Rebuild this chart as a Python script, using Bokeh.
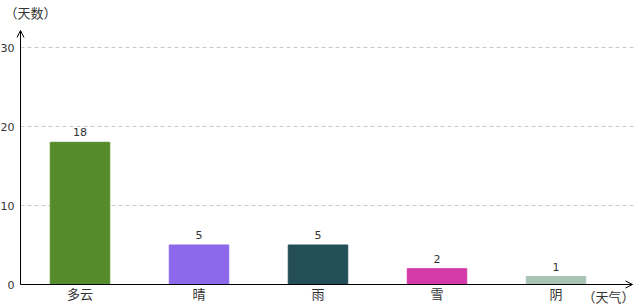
from bokeh.plotting import figure
from bokeh.models import ColumnDataSource, Arrow, OpenHead, Range1d
from bokeh.core.properties import value
from bokeh.embed import file_html
from bokeh.resources import INLINE

categories = ["多云", "晴", "雨", "雪", "阴"]
days = [18, 5, 5, 2, 1]
colors = ["#568b2b", "#8b69ea", "#234e58", "#d43aa8", "#a8c4b3"]
y_ticks = [0, 10, 20, 30]
grid_ticks = [10, 20, 30]
y_title = "（天数）"
x_title = "（天气）"

# scales: 119 px per category, 7.9 px per day
PX_X = 119.0
PX_Y = 7.9
X0, X1 = -20 / PX_X, 620 / PX_X
Y0, Y1 = -21 / PX_Y, 284 / PX_Y
X_TIP = 612 / PX_X
Y_TIP = 254 / PX_Y
X_GRID = 616 / PX_X

xs = [i + 0.5 for i in range(len(categories))]
src = ColumnDataSource(dict(x=xs, top=days, color=colors, label=[str(d) for d in days]))
cat_src = ColumnDataSource(dict(x=xs, y=[0] * len(xs), text=categories))
ytick_src = ColumnDataSource(dict(x=[0] * len(y_ticks), y=y_ticks, text=[str(t) for t in y_ticks]))
grid_src = ColumnDataSource(dict(x0=[0] * len(grid_ticks), x1=[X_GRID] * len(grid_ticks),
                                 y=grid_ticks))

p = figure(width=640, height=305, output_backend="svg", toolbar_location=None,
           x_range=Range1d(X0, X1), y_range=Range1d(Y0, Y1),
           min_border=0)
p.outline_line_color = None
p.background_fill_color = "white"
p.border_fill_color = "white"
p.xaxis.visible = False
p.yaxis.visible = False
p.xgrid.visible = False
p.ygrid.visible = False

# dashed grid lines
p.segment(x0="x0", y0="y", x1="x1", y1="y", source=grid_src, line_color="#c8c8c8",
          line_width=1, line_dash="4 3")

# bars
p.vbar(x="x", top="top", width=0.5, bottom=0, color="color", source=src)

# value labels
p.text(x="x", y="top", text="label", source=src, text_align="center", text_baseline="middle",
       y_offset=-10, text_font_size="11px", text_color="#333333", text_font=value("DejaVu Sans"))

# category labels
p.text(x="x", y="y", text="text", source=cat_src, text_align="center", text_baseline="middle",
       y_offset=9, text_font_size="13px", text_color="#333333",
       text_font=value("Noto Sans CJK SC"))

# y tick labels
p.text(x="x", y="y", text="text", source=ytick_src, text_align="right", text_baseline="middle",
       x_offset=-6, text_font_size="11px", text_color="#333333", text_font=value("DejaVu Sans"))

# axis lines with arrows
p.add_layout(Arrow(x_start=0, y_start=0, x_end=X_TIP, y_end=0, line_color="black", line_width=1,
                   end=OpenHead(size=7, line_color="black", line_width=1)))
p.add_layout(Arrow(x_start=0, y_start=0, x_end=0, y_end=Y_TIP, line_color="black", line_width=1,
                   end=OpenHead(size=7, line_color="black", line_width=1)))

# axis titles
p.text(x=[0], y=[Y1], text=[y_title], text_align="left", text_baseline="middle",
       x_offset=-16, y_offset=12, text_font_size="13px", text_color="#333333",
       text_font=value("Noto Sans CJK SC"))
p.text(x=[X_TIP], y=[0], text=[x_title], text_align="right", text_baseline="middle",
       x_offset=2, y_offset=12, text_font_size="13px", text_color="#333333",
       text_font=value("Noto Sans CJK SC"))

open("out.html", "w").write(file_html(p, INLINE))
